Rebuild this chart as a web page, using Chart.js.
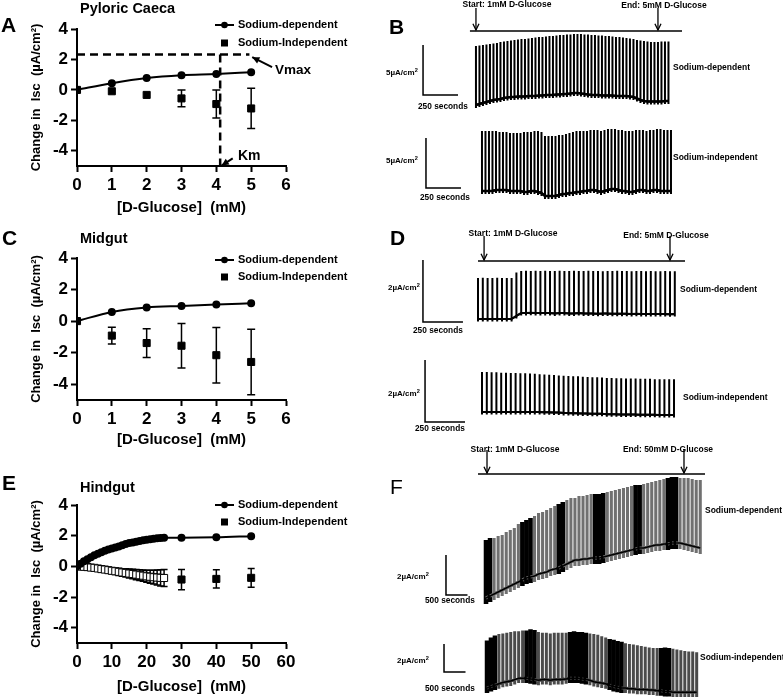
<!DOCTYPE html>
<html>
<head>
<meta charset="utf-8">
<script src="https://cdn.jsdelivr.net/npm/chart.js@4.4.1/dist/chart.umd.min.js"></script>
<style>
body { margin: 0; background: #fff; }
#fig { position: relative; width: 783px; height: 699px; overflow: hidden; background: #fff;
       font-family: "Liberation Sans", Arial, Helvetica, sans-serif; }
canvas { position: absolute; }
.lbl { position: absolute; white-space: nowrap; font-weight: bold; line-height: 1; color: #000;
       transform: translateY(-50%); z-index: 5; }
.lbl sup { font-size: 70%; line-height: 0; vertical-align: 0.5em; }
</style>
</head>
<body>
<div id="fig"></div>
<script>
'use strict';
// ---------- kinetics panels A, C, E ----------
const ticksY = [-4, -2, 0, 2, 4];
const ticksX6 = [0, 1, 2, 3, 4, 5, 6];
const ticksX60 = [0, 10, 20, 30, 40, 50, 60];

// A  pyloric caeca
const glucoseA = [0, 1, 2, 3, 4, 5];
const naDepA = [0, 0.44, 0.78, 0.96, 1.04, 1.16];
const naIndA = [0, -0.09, -0.33, -0.56, -0.93, -1.22];
const semA = [0, 0, 0, 0.55, 0.92, 1.32];
const vmaxA = 2.33;
const kmA = 4.11;

// C  midgut
const glucoseC = [0, 1, 2, 3, 4, 5];
const naDepC = [0, 0.58, 0.86, 0.96, 1.05, 1.13];
const naIndC = [0, -0.92, -1.39, -1.56, -2.16, -2.59];
const semC = [0, 0.53, 0.91, 1.41, 1.76, 2.08];

// E  hindgut
const glucoseE = [0, 1, 2, 3, 4, 5, 6, 7, 8, 9, 10, 11, 12, 13, 14, 15, 16, 17, 18, 19, 20, 21, 22, 23, 24, 25, 30, 40, 50];
const naDepE = [0, 0.17, 0.33, 0.47, 0.6, 0.72, 0.82, 0.92, 1.01, 1.09, 1.16, 1.23, 1.3, 1.37, 1.45, 1.52, 1.56, 1.61, 1.65, 1.7, 1.74, 1.77, 1.8, 1.83, 1.85, 1.87, 1.86, 1.89, 1.97];
const naIndE = [0, -0.01, -0.03, -0.05, -0.08, -0.1, -0.14, -0.18, -0.21, -0.25, -0.29, -0.32, -0.36, -0.4, -0.43, -0.47, -0.5, -0.54, -0.58, -0.61, -0.65, -0.68, -0.71, -0.73, -0.75, -0.76, -0.86, -0.82, -0.75];
const semE = [0, 0.02, 0.04, 0.06, 0.07, 0.09, 0.11, 0.13, 0.15, 0.17, 0.19, 0.21, 0.23, 0.25, 0.27, 0.29, 0.31, 0.33, 0.35, 0.37, 0.39, 0.42, 0.45, 0.49, 0.53, 0.56, 0.66, 0.6, 0.61];

// ---------- Isc traces B, D, F (per pulse: peak and baseline, uA/cm2) ----------
const peaksB1 = [5.9, 5.95, 6.0, 6.05, 6.1, 6.15, 6.2, 6.3, 6.35, 6.4,
  6.45, 6.5, 6.55, 6.6, 6.6, 6.65, 6.7, 6.75, 6.8, 6.8,
  6.85, 6.9, 6.9, 6.95, 7.0, 7.0, 7.05, 7.05, 7.1, 7.1,
  7.1, 7.05, 7.05, 7.0, 7.0, 6.95, 6.95, 6.9, 6.9, 6.85,
  6.8, 6.8, 6.75, 6.7, 6.65, 6.6, 6.5, 6.45, 6.4, 6.35,
  6.3, 6.3, 6.3, 6.35, 6.35, 6.35];
const basesB1 = [0, 0.1, 0.2, 0.3, 0.4, 0.5, 0.55, 0.6, 0.7, 0.75,
  0.8, 0.8, 0.85, 0.85, 0.85, 0.9, 0.9, 0.9, 0.95, 0.95,
  1.0, 1.0, 1.0, 1.05, 1.05, 1.1, 1.1, 1.15, 1.2, 1.2,
  1.15, 1.1, 1.05, 1.0, 1.0, 1.0, 0.95, 0.95, 0.95, 0.95,
  0.9, 0.9, 0.9, 0.9, 0.85, 0.8, 0.65, 0.5, 0.4, 0.35,
  0.35, 0.35, 0.35, 0.35, 0.4, 0.4];
const peaksB2 = [6.0, 6.0, 6.0, 6.0, 6.0, 5.9, 5.9, 5.9, 5.8, 5.8,
  5.8, 5.8, 5.9, 5.9, 5.9, 6.0, 6.0, 5.9,
  5.5, 5.5, 5.5, 5.5, 5.6, 5.6, 5.7, 5.8,
  5.9, 6.0, 6.0, 6.0, 6.0, 6.1, 6.1, 6.1, 6.0, 6.1,
  6.2, 6.2, 6.2, 6.1, 6.1, 6.0, 6.0, 6.0, 6.1, 6.1,
  6.1, 6.0, 6.1, 6.1, 6.2, 6.2, 6.1, 6.1, 6.1];
const basesB2 = [0, 0, 0, 0, 0.1, 0.1, 0.1, 0.1, 0, 0,
  0, 0, -0.1, -0.1, 0, 0, -0.1, -0.2,
  -0.5, -0.5, -0.5, -0.5, -0.4, -0.3, -0.3, -0.2,
  -0.2, -0.1, -0.1, 0, 0, 0.1, 0.1, 0, -0.1, 0,
  0.1, 0.2, 0.2, 0.1, 0, 0, -0.1, -0.1, 0, 0.1,
  0.1, 0, 0, 0.1, 0.1, 0, 0, 0, 0];
const peaksD1 = [1.32, 1.33, 1.32, 1.32, 1.33, 1.32, 1.32, 1.32, 1.5,
  1.55, 1.56, 1.55, 1.56, 1.55, 1.56, 1.55, 1.55, 1.56, 1.55,
  1.55, 1.56, 1.55, 1.55, 1.56, 1.55, 1.55, 1.54, 1.55, 1.55,
  1.56, 1.55, 1.55, 1.54, 1.55, 1.55, 1.54, 1.55, 1.54, 1.54,
  1.55, 1.54, 1.54];
const basesD1 = [0, 0, 0, 0, 0, 0, 0, 0, 0.1,
  0.19, 0.19, 0.2, 0.19, 0.19, 0.19, 0.19, 0.18, 0.19, 0.19,
  0.18, 0.18, 0.19, 0.18, 0.18, 0.18, 0.17, 0.18, 0.18, 0.17,
  0.17, 0.17, 0.17, 0.16, 0.17, 0.16, 0.16, 0.16, 0.16, 0.16,
  0.16, 0.15, 0.16];
const peaksD2 = [1.29, 1.29, 1.28, 1.28, 1.27, 1.27, 1.26, 1.26, 1.25, 1.25,
  1.24, 1.23, 1.22, 1.21, 1.2, 1.19, 1.18, 1.17, 1.16, 1.15,
  1.15, 1.14, 1.13, 1.12, 1.12, 1.11, 1.1, 1.1, 1.09, 1.09,
  1.08, 1.08, 1.08, 1.07, 1.07, 1.07, 1.06, 1.06, 1.06, 1.06, 1.06];
const basesD2 = [0, 0, 0, 0, 0, 0, 0, 0, 0, 0,
  0, 0, 0, -0.01, -0.01, -0.02, -0.02, -0.03, -0.03, -0.04,
  -0.04, -0.05, -0.05, -0.06, -0.06, -0.06, -0.07, -0.07, -0.07, -0.08,
  -0.08, -0.08, -0.08, -0.09, -0.09, -0.09, -0.09, -0.1, -0.1, -0.1, -0.1];
const peaksF1 = [3.0, 3.1, 3.1, 3.2, 3.25, 3.4, 3.5, 3.6, 3.8, 3.9,
  4.0, 4.1, 4.2, 4.35, 4.4, 4.5, 4.6, 4.7, 4.8, 4.9,
  5.0, 5.1, 5.1, 5.2, 5.2, 5.25, 5.3, 5.3, 5.3, 5.35,
  5.4, 5.45, 5.5, 5.55, 5.6, 5.65, 5.7, 5.75, 5.75, 5.8,
  5.85, 5.9, 5.95, 6.0, 6.05, 6.1, 6.15, 6.15, 6.1, 6.1,
  6.1, 6.05, 6.0, 6.0];
const basesF1 = [0.1, 0.2, 0.3, 0.4, 0.5, 0.6, 0.7, 0.8, 0.9, 1.0,
  1.1, 1.15, 1.2, 1.3, 1.35, 1.4, 1.5, 1.55, 1.6, 1.7,
  1.8, 1.9, 2.0, 2.0, 2.05, 2.05, 2.1, 2.1, 2.1, 2.15,
  2.2, 2.25, 2.3, 2.35, 2.4, 2.45, 2.5, 2.55, 2.6, 2.6,
  2.65, 2.7, 2.75, 2.75, 2.8, 2.8, 2.85, 2.85, 2.85, 2.8,
  2.75, 2.7, 2.65, 2.6];
const darkF1 = [0, 1, 9, 10, 11, 18, 19, 27, 28, 29, 37, 38, 45, 46, 47];
const peaksF2 = [3.4, 3.6, 3.75, 3.85, 3.9, 3.95, 4.0, 4.05, 4.05, 4.1,
  4.1, 4.2, 4.15, 4.0, 3.95, 3.95, 3.9, 3.95, 3.95, 3.95,
  3.95, 4.0, 4.05, 4.0, 4.0, 3.95, 3.9, 3.85, 3.8, 3.7,
  3.6, 3.5, 3.45, 3.35, 3.3, 3.2, 3.15, 3.1, 3.05, 3.0,
  2.95, 2.9, 2.85, 2.85, 2.85, 2.9, 2.85, 2.8, 2.75, 2.7,
  2.65, 2.6, 2.6, 2.55];
const basesF2 = [0, 0.1, 0.2, 0.3, 0.4, 0.45, 0.5, 0.6, 0.7, 0.7,
  0.7, 0.65, 0.6, 0.55, 0.6, 0.6, 0.55, 0.6, 0.6, 0.6,
  0.65, 0.7, 0.7, 0.7, 0.65, 0.6, 0.55, 0.45, 0.4, 0.35,
  0.3, 0.2, 0.1, 0.05, 0, 0, -0.05, -0.05, -0.1, -0.1,
  -0.1, -0.15, -0.15, -0.2, -0.2, -0.25, -0.25, -0.3, -0.3, -0.3,
  -0.3, -0.3, -0.3, -0.3];
const darkF2 = [0, 1, 2, 10, 11, 12, 21, 22, 23, 24, 25, 31, 32, 33, 34, 44, 45, 46];

const FONT = '"Liberation Sans", Arial, Helvetica, sans-serif';
Chart.defaults.font.family = FONT;
Chart.defaults.color = '#000';
Chart.defaults.animation = false;

let fig = document.getElementById('fig');

function addCanvas(left, top, w, h) {
  let c = document.createElement('canvas');
  c.width = w;
  c.height = h;
  c.style.left = left + 'px';
  c.style.top = top + 'px';
  fig.appendChild(c);
  return c;
}

function label(html, x, y, size, center, normal) {
  let d = document.createElement('div');
  d.className = 'lbl';
  d.innerHTML = html;
  d.style.left = x + 'px';
  d.style.top = y + 'px';
  d.style.fontSize = size + 'px';
  if (center) d.style.transform = 'translate(-50%,-50%)';
  if (normal) d.style.fontWeight = 'normal';
  fig.appendChild(d);
}

function arrow(ctx, x0, y0, x1, y1, head, filled) {
  let a = Math.atan2(y1 - y0, x1 - x0);
  ctx.beginPath();
  ctx.moveTo(x0, y0);
  ctx.lineTo(x1, y1);
  ctx.stroke();
  ctx.beginPath();
  ctx.moveTo(x1 - head * Math.cos(a - 0.45), y1 - head * Math.sin(a - 0.45));
  ctx.lineTo(x1, y1);
  ctx.lineTo(x1 - head * Math.cos(a + 0.45), y1 - head * Math.sin(a + 0.45));
  if (filled) { ctx.closePath(); ctx.fill(); } else ctx.stroke();
}

function kineticsChart(s) {
  let cv = addCanvas(0, s.top, 390, s.height);
  let bold = size => ({family: FONT, size: size, weight: 'bold'});
  let grid = {display: true, drawOnChartArea: false, drawTicks: true, tickLength: 6, tickWidth: 2, tickColor: '#000'};
  let border = {display: true, color: '#000', width: 2};
  let datasets = [
    {data: s.x.map((x, i) => ({x: x, y: s.dep[i]})), showLine: true, borderColor: '#000', backgroundColor: '#000',
      borderWidth: 2, pointRadius: 3, cubicInterpolationMode: 'monotone'},
    {data: s.x.map((x, i) => ({x: x, y: s.ind[i]})), showLine: false, pointStyle: 'rect', pointRadius: s.sq,
      borderColor: '#000', borderWidth: 1,
      pointBackgroundColor: c => (c.raw && c.raw.x > 0 && c.raw.x <= s.openTo) ? '#fff' : '#000'}
  ].concat(s.extra || []);

  new Chart(cv, {
    type: 'scatter',
    data: {datasets: datasets},
    options: {
      responsive: false,
      events: [],
      layout: {padding: {top: s.plotTop, right: 104, left: 0, bottom: 0}},
      plugins: {legend: {display: false}, tooltip: {enabled: false}},
      scales: {
        x: {type: 'linear', min: 0, max: s.xMax,
          afterBuildTicks: sc => { sc.ticks = s.xTicks.map(v => ({value: v})); },
          afterFit: sc => { sc.height = s.xAxisH; },
          ticks: {font: bold(17), color: '#000', padding: 3},
          grid: grid, border: border,
          title: {display: true, text: '[D-Glucose]  (mM)', font: bold(15), color: '#000', padding: {top: 0, bottom: 3}}},
        y: {min: -5, max: 4,
          afterBuildTicks: sc => { sc.ticks = ticksY.map(v => ({value: v})); },
          afterFit: sc => { sc.width = 77; },
          ticks: {font: bold(17), color: '#000', padding: 3},
          grid: grid, border: border,
          title: {display: true, text: 'Change in  Isc  (\u00b5A/cm\u00b2)', font: bold(13), color: '#000', padding: {top: 29, bottom: 0}}}
      }
    },
    plugins: [{
      id: 'kin' + s.top,
      beforeDatasetsDraw(chart) {
        let xs = chart.scales.x, ys = chart.scales.y, ctx = chart.ctx;
        ctx.save();
        ctx.strokeStyle = '#000';
        ctx.lineWidth = 1.5;
        s.x.forEach((x, i) => {
          let e = s.sem[i];
          if (!e) return;
          let px = xs.getPixelForValue(x);
          let lo = ys.getPixelForValue(s.ind[i] - e), hi = ys.getPixelForValue(s.ind[i] + e);
          ctx.beginPath();
          ctx.moveTo(px, lo); ctx.lineTo(px, hi);
          ctx.moveTo(px - s.cap, lo); ctx.lineTo(px + s.cap, lo);
          ctx.moveTo(px - s.cap, hi); ctx.lineTo(px + s.cap, hi);
          ctx.stroke();
        });
        ctx.restore();
      },
      afterDraw(chart) {
        let xs = chart.scales.x, ys = chart.scales.y, ctx = chart.ctx;
        let y1 = s.legendY[0], y2 = s.legendY[1];
        ctx.save();
        ctx.fillStyle = '#000';
        ctx.strokeStyle = '#000';
        ctx.lineWidth = 2;
        ctx.beginPath(); ctx.moveTo(215, y1); ctx.lineTo(234, y1); ctx.stroke();
        ctx.beginPath(); ctx.arc(224.5, y1, 3.3, 0, Math.PI * 2); ctx.fill();
        ctx.fillRect(221, y2 - 3.5, 7, 7);
        ctx.font = 'bold 11px ' + FONT;
        ctx.textBaseline = 'middle';
        ctx.fillText('Sodium-dependent', 238, y1);
        ctx.fillText('Sodium-Independent', 238, y2);
        ctx.lineWidth = 2;
        (s.arrows || []).forEach(a => {
          arrow(ctx, xs.getPixelForValue(a[0]), ys.getPixelForValue(a[1]),
            xs.getPixelForValue(a[2]), ys.getPixelForValue(a[3]), 8, true);
        });
        ctx.restore();
      }
    }]
  });
}

function traceChart(s) {
  let cv = addCanvas(390, s.top, 393, s.height);
  let yMax = (s.basePx - s.top) / s.ppu;
  let yMin = yMax - s.height / s.ppu;
  let pts = [];
  s.peaks.forEach((p, i) => {
    let t = s.t0 + i * s.step, b = s.bases[i];
    pts.push({x: t, y: b}, {x: t, y: p}, {x: t, y: b - s.dip}, {x: t, y: b});
  });
  let base = s.bases.map((b, i) => ({x: s.t0 + i * s.step, y: b}));
  let dark = s.dark || [];
  let isDark = c => c.p0DataIndex % 4 !== 3 && dark.includes(Math.floor(c.p0DataIndex / 4));
  let datasets = [
    {data: base, borderColor: '#000', borderWidth: s.baseWidth},
    {data: pts, borderColor: s.color, borderWidth: s.width, borderJoinStyle: 'bevel',
      segment: {borderColor: c => isDark(c) ? '#000' : undefined,
                borderWidth: c => isDark(c) ? s.width + 1.5 : undefined}},
    {data: [{x: s.bar.t, y: s.bar.y + s.bar.dy}, {x: s.bar.t, y: s.bar.y}, {x: s.bar.t + s.bar.dt, y: s.bar.y}],
      borderColor: '#000', borderWidth: 1.5}
  ];
  if (s.protocol) {
    datasets.push({data: [{x: s.protocol.from, y: s.protocol.y}, {x: s.protocol.to, y: s.protocol.y}],
      borderColor: '#000', borderWidth: 1.5});
  }
  new Chart(cv, {
    type: 'scatter',
    data: {datasets: datasets},
    options: {
      responsive: false,
      events: [],
      layout: {padding: 0},
      elements: {point: {radius: 0}, line: {tension: 0}},
      datasets: {scatter: {showLine: true}},
      plugins: {legend: {display: false}, tooltip: {enabled: false}},
      scales: {
        x: {type: 'linear', display: false, min: 0, max: 393 / s.pps},
        y: {display: false, min: yMin, max: yMax}
      }
    },
    plugins: [{
      id: 'trace' + s.top,
      afterDraw(chart) {
        if (!s.protocol) return;
        let xs = chart.scales.x, ys = chart.scales.y, ctx = chart.ctx;
        ctx.save();
        ctx.strokeStyle = '#000';
        ctx.lineWidth = 1.3;
        s.protocol.arrows.forEach(t => {
          let px = xs.getPixelForValue(t);
          arrow(ctx, px, ys.getPixelForValue(s.protocol.top), px, ys.getPixelForValue(s.protocol.y) - 1, 7, false);
        });
        ctx.restore();
      }
    }]
  });
}

// ---- left panels ----
kineticsChart({top: 0, height: 220, plotTop: 29, xAxisH: 54, xMax: 6, xTicks: ticksX6,
  x: glucoseA, dep: naDepA, ind: naIndA, sem: semA, sq: 5, cap: 4, openTo: 0, legendY: [25, 43],
  extra: [
    {data: [{x: 0, y: vmaxA}, {x: 4.95, y: vmaxA}], showLine: true, borderColor: '#000', borderWidth: 2.5,
      borderDash: [8, 5], pointRadius: 0},
    {data: [{x: kmA, y: vmaxA}, {x: kmA, y: -5}], showLine: true, borderColor: '#000', borderWidth: 2.5,
      borderDash: [8, 5], pointRadius: 0}
  ],
  arrows: [[5.6, 1.5, 5.03, 2.15], [4.47, -4.5, 4.15, -4.97]]});

kineticsChart({top: 220, height: 232, plotTop: 38, xAxisH: 52, xMax: 6, xTicks: ticksX6,
  x: glucoseC, dep: naDepC, ind: naIndC, sem: semC, sq: 5, cap: 4, openTo: 0, legendY: [40, 57]});

kineticsChart({top: 450, height: 249, plotTop: 55, xAxisH: 56, xMax: 60, xTicks: ticksX60,
  x: glucoseE, dep: naDepE, ind: naIndE, sem: semE, sq: 5, cap: 3.5, openTo: 25, legendY: [55, 72]});

// ---- right panels ----
traceChart({top: 0, height: 115, ppu: 10, basePx: 105, pps: 0.14, t0: 614, step: 25,
  peaks: peaksB1, bases: basesB1, dip: 0.3, color: '#000', width: 2, baseWidth: 2.5,
  bar: {t: 236, y: 1.0, dy: 5, dt: 250},
  protocol: {y: 7.4, top: 9.7, from: 571, to: 2086, arrows: [614, 1914]}});
traceChart({top: 115, height: 100, ppu: 10, basePx: 191, pps: 0.14, t0: 657, step: 25,
  peaks: peaksB2, bases: basesB2, dip: 0.3, color: '#000', width: 2, baseWidth: 2.5,
  bar: {t: 257, y: 0.3, dy: 5, dt: 250}});
traceChart({top: 215, height: 125, ppu: 31, basePx: 319, pps: 0.16, t0: 550, step: 30,
  peaks: peaksD1, bases: basesD1, dip: 0.08, color: '#000', width: 2, baseWidth: 2,
  bar: {t: 206, y: -0.1, dy: 2, dt: 250},
  protocol: {y: 1.87, top: 2.68, from: 550, to: 1844, arrows: [588, 1750]}});
traceChart({top: 340, height: 100, ppu: 31, basePx: 412, pps: 0.16, t0: 575, step: 30,
  peaks: peaksD2, bases: basesD2, dip: 0.08, color: '#000', width: 2, baseWidth: 2,
  bar: {t: 219, y: -0.32, dy: 2, dt: 250}});
traceChart({top: 440, height: 172, ppu: 20, basePx: 600, pps: 0.043, t0: 2233, step: 94,
  peaks: peaksF1, bases: basesF1, dip: 0.3, color: '#707070', width: 3.1, baseWidth: 1.5, dark: darkF1,
  bar: {t: 1302, y: 0.25, dy: 2, dt: 500},
  protocol: {y: 6.3, top: 7.5, from: 2047, to: 7326, arrows: [2256, 6837]}});
traceChart({top: 612, height: 87, ppu: 14, basePx: 688, pps: 0.043, t0: 2256, step: 92,
  peaks: peaksF2, bases: basesF2, dip: 0.35, color: '#4a4a4a', width: 3.0, baseWidth: 1.5, dark: darkF2,
  bar: {t: 1256, y: 1.14, dy: 2, dt: 500}});

// ---- text ----
label('A', 1, 24, 21);
label('Pyloric Caeca', 80, 8, 14.5);
label('Vmax', 275, 70, 13.5);
label('Km', 238, 155, 14);
label('C', 2, 237, 21);
label('Midgut', 80, 238, 14.5);
label('E', 2, 482, 21);
label('Hindgut', 80, 487, 14.5);

label('B', 389, 26, 21);
label('Start: 1mM D-Glucose', 507, 4, 8.5, true);
label('End: 5mM D-Glucose', 664, 5, 8.5, true);
label('Sodium-dependent', 673, 67, 8.5);
label('Sodium-independent', 673, 157, 8.5);
label('5\u00b5A/cm<sup>2</sup>', 386, 73, 8);
label('250 seconds', 418, 106, 8.3);
label('5\u00b5A/cm<sup>2</sup>', 386, 161, 8);
label('250 seconds', 420, 197, 8.3);

label('D', 390, 237, 21);
label('Start: 1mM D-Glucose', 513, 233, 8.5, true);
label('End: 5mM D-Glucose', 666, 235, 8.5, true);
label('Sodium-dependent', 680, 289, 8.5);
label('Sodium-independent', 683, 397, 8.5);
label('2\u00b5A/cm<sup>2</sup>', 388, 288, 8);
label('250 seconds', 413, 330, 8.3);
label('2\u00b5A/cm<sup>2</sup>', 388, 394, 8);
label('250 seconds', 415, 428, 8.3);

label('F', 390, 486, 21, false, true);
label('Start: 1mM D-Glucose', 515, 449, 8.5, true);
label('End: 50mM D-Glucose', 668, 449, 8.5, true);
label('Sodium-dependent', 705, 510, 8.5);
label('Sodium-independent', 700, 657, 8.5);
label('2\u00b5A/cm<sup>2</sup>', 397, 577, 8);
label('500 seconds', 425, 600, 8.3);
label('2\u00b5A/cm<sup>2</sup>', 397, 661, 8);
label('500 seconds', 425, 688, 8.3);
</script>
</body>
</html>
